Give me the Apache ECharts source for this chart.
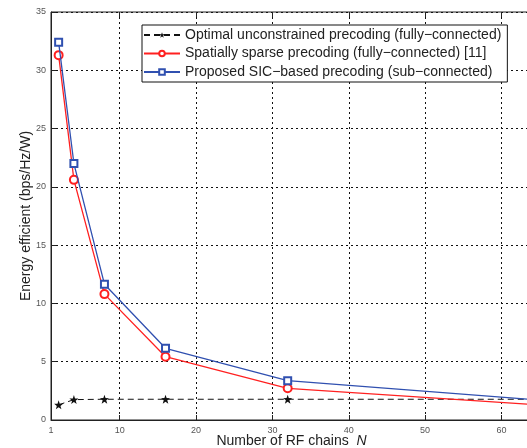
<!DOCTYPE html>
<html><head><meta charset="utf-8">
<script src="https://cdn.jsdelivr.net/npm/echarts@6/dist/echarts.min.js"></script>
<style>html,body{margin:0;padding:0;background:#fff}#c{width:527px;height:448px}</style>
</head><body><div id="c"></div>
<script>
const rfChains = [2, 4, 8, 16, 32, 64];
const optimalUnconstrained = [1.3, 1.75, 1.78, 1.78, 1.78, 1.78];
const spatiallySparse = [31.3, 20.6, 10.8, 5.43, 2.72, 1.33];
const proposedSIC = [32.4, 22.0, 11.65, 6.15, 3.37, 1.76];
const xTicks = [1, 10, 20, 30, 40, 50, 60, 64];
const seriesNames = [
  'Optimal unconstrained precoding (fully\u2212connected)',
  'Spatially sparse precoding (fully\u2212connected) [11]',
  'Proposed SIC\u2212based precoding (sub\u2212connected)'
];
const xTitle = 'Number of RF chains  {i|N}';
const yTitle = 'Energy efficient (bps/Hz/W)';

const pair = ys => rfChains.map((x, i) => [x, ys[i]]);
const star = 'path://M0,-10 L2.35,-3.24 L9.51,-3.09 L3.8,1.24 L5.88,8.09 L0,4 L-5.88,8.09 L-3.8,1.24 L-9.51,-3.09 L-2.35,-3.24 Z';
const FONT = 'Liberation Sans';
const gridLine = {show: true, lineStyle: {color: '#111', width: 1, type: [2, 3]}};

const chart = echarts.init(document.getElementById('c'), null, {renderer: 'canvas'});
chart.setOption({
  animation: false,
  textStyle: {fontFamily: FONT},
  grid: {left: 51, width: 481, top: 12, height: 408, show: true, borderColor: '#222', borderWidth: 1,
         containLabel: false, outerBoundsMode: 'none'},
  legend: {
    orient: 'vertical', left: 142, top: 25,
    itemWidth: 36, itemHeight: 7, itemGap: 4.5,
    padding: [3, 6, 3, 1],
    borderColor: '#111', borderWidth: 1, backgroundColor: '#fff',
    textStyle: {fontSize: 14, color: '#222', fontFamily: FONT},
    data: seriesNames
  },
  xAxis: [{
    type: 'value', min: 1, max: 64,
    name: xTitle, nameLocation: 'middle', nameGap: 14, nameMoveOverlap: false,
    nameTextStyle: {fontSize: 14, color: '#222', fontFamily: FONT,
                    rich: {i: {fontStyle: 'italic', fontSize: 14, color: '#222'}}},
    axisLine: {show: true, lineStyle: {color: '#222', width: 1}},
    axisTick: {show: true, inside: true, length: 5, lineStyle: {color: '#222'}, customValues: xTicks},
    axisLabel: {fontSize: 9, color: '#555', margin: 6, fontFamily: FONT, customValues: xTicks},
    splitLine: gridLine
  }, {
    type: 'value', min: 1, max: 64, position: 'top',
    axisLine: {show: false},
    axisTick: {show: true, inside: true, length: 5, lineStyle: {color: '#222'}, customValues: xTicks},
    axisLabel: {show: false}, splitLine: {show: false}
  }],
  yAxis: {
    type: 'value', min: 0, max: 35, interval: 5,
    name: yTitle, nameLocation: 'middle', nameGap: 18, nameRotate: 90, nameMoveOverlap: false,
    nameTextStyle: {fontSize: 14, color: '#222', fontFamily: FONT},
    axisLine: {show: true, lineStyle: {color: '#222', width: 1}},
    axisTick: {show: true, inside: true, length: 5, lineStyle: {color: '#222'}},
    axisLabel: {fontSize: 9, color: '#555', margin: 5, fontFamily: FONT},
    splitLine: gridLine
  },
  series: [{
    name: seriesNames[0], type: 'line', data: pair(optimalUnconstrained),
    symbol: star, symbolSize: 9,
    lineStyle: {color: '#111', width: 1, type: [6, 4]},
    itemStyle: {color: '#111', borderWidth: 0}, z: 3
  }, {
    name: seriesNames[1], type: 'line', data: pair(spatiallySparse),
    symbol: 'emptyCircle', symbolSize: 8,
    lineStyle: {color: '#ff2020', width: 1.3},
    itemStyle: {color: '#ff2020', borderWidth: 1.3}, z: 4
  }, {
    name: seriesNames[2], type: 'line', data: pair(proposedSIC),
    symbol: 'emptyRect', symbolSize: 7,
    lineStyle: {color: '#3050b0', width: 1.3},
    itemStyle: {color: '#3050b0', borderWidth: 1.3}, z: 5
  }]
});
</script></body></html>
